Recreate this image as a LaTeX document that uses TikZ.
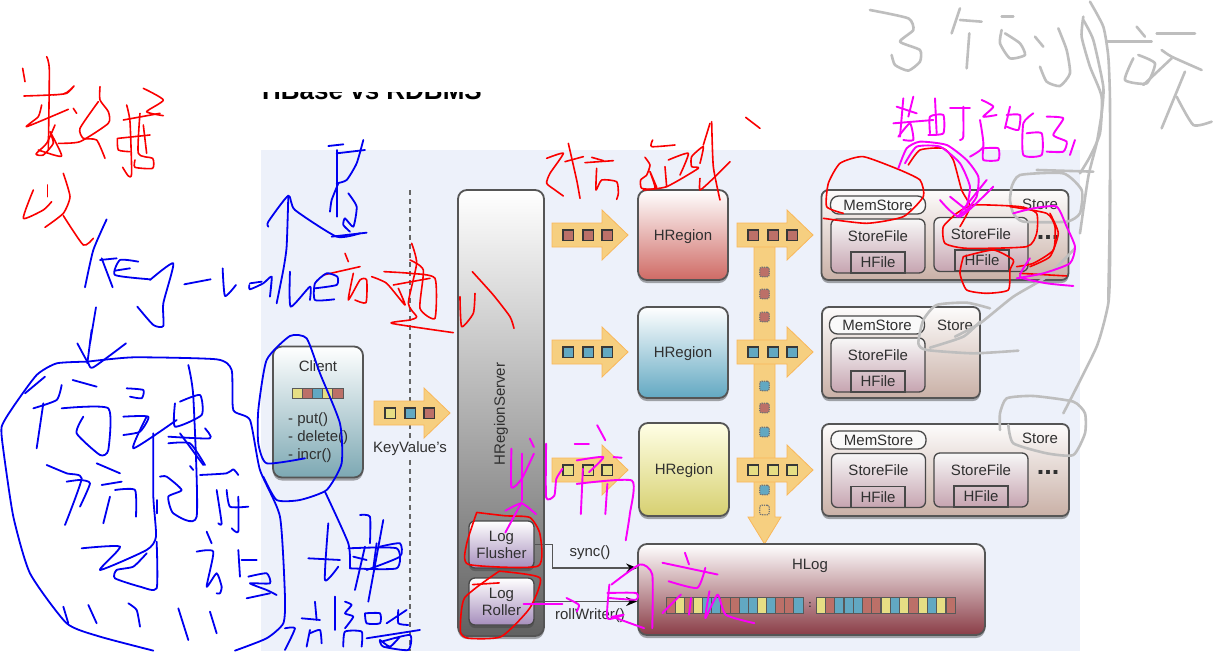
\documentclass[tikz,border=0pt]{standalone}
\usepackage{fontspec}
\setmainfont{Liberation Sans}
\usepackage{xcolor}
\usetikzlibrary{arrows.meta,shadows}
\definecolor{panelblue}{HTML}{EDF1FA}
\definecolor{sqR}{HTML}{BC7068}
\definecolor{sqB}{HTML}{62A8C2}
\definecolor{sqY}{HTML}{E6DE84}
\definecolor{flowfillc}{HTML}{F6CF80}
\definecolor{edgec}{HTML}{555555}
\definecolor{textc}{HTML}{303030}
\definecolor{storebot}{HTML}{C9B0A6}
\definecolor{filebot}{HTML}{C6A4B0}
\definecolor{logbot}{HTML}{A68EBC}
\definecolor{hlogbot}{HTML}{8A3D47}
\definecolor{clientbot}{HTML}{7CA8B3}
\definecolor{inkB}{HTML}{0000F0}
\definecolor{inkR}{HTML}{FA0000}
\definecolor{inkP}{HTML}{FA00FA}
\definecolor{inkG}{HTML}{BEBEBE}
\tikzset{
	softshadow/.style={drop shadow={shadow xshift=0pt,shadow yshift=-3pt,opacity=.45,fill=black!75}},
	lbl/.style={inner sep=0pt,text=textc,font=\fontsize{15}{17}\selectfont},
	bigbox/.style={draw=edgec,line width=1.8pt,rounded corners=9pt,inner sep=0pt,softshadow},
	thinbox/.style={draw=edgec!85!black,line width=1.3pt,inner sep=0pt},
	regionbox/.style={bigbox,minimum width=90pt,lbl,text depth=0pt},
	storebox/.style={bigbox,top color=white!96!storebot,bottom color=storebot,rounded corners=7pt},
	memstore/.style={thinbox,fill=white!95!gray,rounded corners=8pt,minimum width=95pt,minimum height=18pt,lbl},
	storefile/.style={thinbox,top color=white!94!gray,bottom color=filebot,rounded corners=6pt,minimum width=94pt,minimum height=54pt},
	hfile/.style={thinbox,minimum width=54pt,minimum height=21pt,lbl},
	logbox/.style={thinbox,top color=white,bottom color=logbot,rounded corners=6pt,minimum width=65pt,minimum height=47pt,lbl,align=center,softshadow},
	flowfill/.style={fill=flowfillc,draw=orange!30!flowfillc,line width=.8pt},
	flowsq/.style={draw=black!78,line width=1.5pt,inner sep=0pt,minimum size=10.5pt},
	bardot/.style={draw=black!55,densely dotted,line width=1.2pt,inner sep=0pt,minimum size=9.5pt,rounded corners=2pt},
	logcell/.style={draw=black!65,line width=.7pt,inner sep=0pt,minimum width=9.1pt,minimum height=16pt},
	stripcell/.style={draw=black!65,line width=.8pt,inner sep=0pt,minimum width=10.2pt,minimum height=10pt},
	wire/.style={draw=edgec,line width=1.3pt,-{Stealth[length=11pt,width=9pt,color=black]}},
	inkblue/.style={color=inkB,line width=1.8pt,line cap=round,line join=round},
	inkred/.style={color=inkR,line width=1.6pt,line cap=round,line join=round},
	inkpink/.style={color=inkP,line width=1.9pt,line cap=round,line join=round},
	inkgray/.style={color=inkG,line width=2.6pt,line cap=round,line join=round},
	shotone/.style={shift={(260,140)},x=.3333pt,y=-.3333pt},
	shottwo/.style={shift={(780,0)},x=.3333pt,y=-.3333pt},
	shotthree/.style={shift={(440,400)},x=.4082pt,y=-.3356pt},
	shotfour/.style={shift={(0,330)},x=.3333pt,y=-.3333pt},
	shotfive/.style={shift={(0,50)},x=.3333pt,y=-.3333pt},
	shotsix/.style={shift={(540,100)},x=.3333pt,y=-.3333pt},
	shoteight/.style={shift={(900,180)},x=.3333pt,y=-.3333pt},
}
\newcommand{\hand}[1]{\draw plot[smooth,tension=.35] coordinates {#1};}
\newcommand{\flowarrow}[6]{%
	\path[flowfill] (#2-38,#3-12) -- (#2+12,#3-12) -- (#2+12,#3-25) -- (#2+38,#3) -- (#2+12,#3+25) -- (#2+12,#3+12) -- (#2-38,#3+12) -- cycle;
	\node[flowsq,fill=#4] (#1a) at (#2-22,#3) {};
	\node[flowsq,fill=#5] (#1b) at (#2-2,#3) {};
	\node[flowsq,fill=#6] (#1c) at (#2+17,#3) {};
}
\begin{document}
\begin{tikzpicture}[x=1pt,y=-1pt]
	\useasboundingbox (0,0) rectangle (1229,651);
	\fill[white] (0,0) rectangle (1229,651);
	%   %   %   %   %   %   %   %   %   %   %
	%   Title, cut off above
	\begin{scope}
		\clip (250,92) rectangle (500,112);
		\node[anchor=base,inner sep=0pt,font=\fontsize{26}{28}\selectfont\bfseries] (title) at (372,99.5) {HBase vs RDBMS};
	\end{scope}
	%   %   %   %   %   %   %   %   %   %   %
	%   Panel and split line
	\fill[panelblue] (261,150) rectangle (1080,651);
	\coordinate (splittop) at (409.5,190);
	\coordinate (splitend) at (409.5,651);
	\draw[edgec!90,line width=2pt,dash pattern=on 5pt off 4pt] (splittop) -- (splitend);
	%   %   %   %   %   %   %   %   %   %   %
	%   Client
	\node[bigbox,top color=white,bottom color=clientbot,minimum width=90pt,minimum height=131pt] (client) at (318,412) {};
	\node[lbl] (clientname) at (318,366) {Client};
	\foreach \i/\c in {1/sqY,2/sqR,3/sqB,4/sqY,5/sqR}
		\node[stripcell,fill=\c] (clientcell\i) at ({292+10.2*(\i-.5)},393) {};
	\node[lbl,anchor=west] (put) at (288,420) {- put()};
	\node[lbl,anchor=west] (delete) at (288,438) {- delete()};
	\node[lbl,anchor=west] (incr) at (288,456) {- incr()};
	%   %   %   %   %   %   %   %   %   %   %
	%   Client -> HRegionServer
	\flowarrow{kv}{412}{413}{sqY}{sqB}{sqR}
	\node[lbl,fill=panelblue,inner ysep=2pt] (kvname) at (410,449) {KeyValue's};
	%   %   %   %   %   %   %   %   %   %   %
	%   HRegionServer
	\node[bigbox,top color=white,bottom color=black!62,minimum width=86pt,minimum height=446pt] (server) at (501,413) {};
	\node[lbl,rotate=90] (servername) at (501,414) {HRegionServer};
	\node[logbox] (flusher) at (501.5,544.5) {Log\\Flusher};
	\node[logbox] (roller) at (501.5,601.5) {Log\\Roller};
	%   %   %   %   %   %   %   %   %   %   %
	%   Regions
	\flowarrow{rowa}{590}{235}{sqR}{sqR}{sqR}
	\flowarrow{rowb}{590}{352}{sqB}{sqB}{sqB}
	\flowarrow{rowc}{590}{470}{sqY}{sqY}{sqY}
	\node[regionbox,minimum height=90pt,top color=white,bottom color=sqR!80!red!90] (regiona) at (683,235) {HRegion};
	\node[regionbox,minimum height=91pt,top color=white,bottom color=sqB] (regionb) at (683,352.5) {HRegion};
	\node[regionbox,minimum height=93pt,top color=white!90!yellow,bottom color=sqY!85!olive] (regionc) at (684,469.5) {HRegion};
	%   %   %   %   %   %   %   %   %   %   %
	%   Bus from the regions down to the log
	\path[flowfill] (754,225) -- (775,225) -- (775,517) -- (781,517) -- (764.5,544) -- (748,517) -- (754,517) -- cycle;
	\flowarrow{busa}{775}{235}{sqR}{sqR}{sqR}
	\flowarrow{busb}{775}{352}{sqB}{sqB}{sqB}
	\flowarrow{busc}{775}{470}{sqY}{sqY}{sqY}
	\foreach \dy/\dc in {272/sqR,294/sqR,317/sqR,386/sqB,408/sqR,432/sqB,490/sqB}
		\node[bardot,fill=\dc] (dot\dy) at (764.5,\dy) {};
	\node[bardot] (dotlast) at (764.5,510) {};
	%   %   %   %   %   %   %   %   %   %   %
	%   Stores
	\node[storebox,minimum width=247pt,minimum height=90pt] (storea) at (945,235) {};
	\node[lbl] (storeaname) at (1040,204) {Store};
	\node[memstore] (mema) at (878,205) {MemStore};
	\node[storefile] (filea) at (878,246) {};
	\node[lbl] (fileaname) at (878,236) {StoreFile};
	\node[hfile] (hfilea) at (878,262.5) {HFile};
	\node[storefile] (fileb) at (981,244.5) {};
	\node[lbl] (filebname) at (981,234) {StoreFile};
	\node[hfile] (hfileb) at (982,260.5) {HFile};
	\node[lbl,font=\fontsize{27}{27}\selectfont\bfseries] (moresa) at (1048,237) {...};
	\node[storebox,minimum width=158pt,minimum height=91pt] (storeb) at (901,352.5) {};
	\node[lbl] (storebname) at (955,325) {Store};
	\node[memstore] (memb) at (877,325) {MemStore};
	\node[storefile] (fileba) at (878,365) {};
	\node[lbl] (filebaname) at (878,355) {StoreFile};
	\node[hfile] (hfileba) at (878,381.5) {HFile};
	\node[storebox,minimum width=247pt,minimum height=92pt] (storec) at (945.5,470) {};
	\node[lbl] (storecname) at (1040,438) {Store};
	\node[memstore] (memc) at (878.5,440) {MemStore};
	\node[storefile] (fileca) at (878.5,480.5) {};
	\node[lbl] (filecaname) at (878.5,470) {StoreFile};
	\node[hfile] (hfileca) at (878,497) {HFile};
	\node[storefile] (filecb) at (981,480) {};
	\node[lbl] (filecbname) at (981,470) {StoreFile};
	\node[hfile] (hfilecb) at (981,496.5) {HFile};
	\node[lbl,font=\fontsize{27}{27}\selectfont\bfseries] (moresc) at (1048,472) {...};
	%   %   %   %   %   %   %   %   %   %   %
	%   HLog
	\node[bigbox,top color=white,bottom color=hlogbot,minimum width=347pt,minimum height=91pt] (hlog) at (811.5,589.5) {};
	\node[lbl] (hlogname) at (810,566) {HLog};
	\foreach \i/\c in {1/sqR,2/sqY,3/sqR,4/sqY,5/sqB,6/sqB,7/sqR,8/sqR,9/sqB,10/sqB,11/sqY,12/sqB,13/sqR,14/sqR,15/sqB}
		\node[logcell,fill=\c] (cella\i) at ({666+9.13*(\i-.5)},605) {};
	\node[lbl,font=\bfseries] (logdots) at (810,605) {:};
	\foreach \i/\c in {1/sqY,2/sqR,3/sqB,4/sqB,5/sqB,6/sqR,7/sqR,8/sqY,9/sqB,10/sqY,11/sqR,12/sqY,13/sqB,14/sqY,15/sqR}
		\node[logcell,fill=\c] (cellb\i) at ({816+9.27*(\i-.5)},605) {};
	%   %   %   %   %   %   %   %   %   %   %
	%   Server -> HLog
	\draw[wire] (flusher.east) -- ++(18,0) |- ([yshift=21.5pt]hlog.west);
	\draw[wire] (roller.east) -- (roller.east -| hlog.west);
	\node[lbl] (syncname) at (590,553) {sync()};
	\node[lbl] (rollname) at (590,616) {rollWriter()};
	%   %   %   %   %   %   %   %   %   %   %
	%   Gray notes
	\begin{scope}[inkgray,shottwo]
		\hand{(270,30)(385,55)(400,90)(360,125)(420,150)(420,185)(385,212)(345,195)(335,165)}
		\hand{(515,100)(540,25)} \hand{(540,60)(605,65)} \hand{(568,100)(560,205)}
		\hand{(665,50)(700,50)} \hand{(665,90)(660,130)(690,175)(735,165)(720,130)(675,100)}
		\hand{(765,110)(790,140)} \hand{(835,85)(860,150)(870,220)(840,258)(800,245)(780,200)}
		\hand{(930,5)(970,80)(985,170)(990,300)(990,600)(985,900)}
		\hand{(910,50)(905,110)(930,200)(965,290)(960,400)(930,470)(900,520)}
		\hand{(910,60)(940,120)(970,260)(965,340)(950,430)(925,530)(900,700)}
		\hand{(980,125)(1115,125)} \hand{(1070,80)(1095,110)}
		\hand{(1060,175)(1035,240)(1100,250)(1125,190)(1075,165)}
		\hand{(1130,100)(1245,100)} \hand{(1145,150)(1175,170)(1265,210)} \hand{(1175,175)(1090,255)}
		\hand{(1215,215)(1145,385)} \hand{(1190,290)(1240,375)(1295,365)}
		\hand{(695,560)(720,525)(850,520)(905,570)(900,640)(860,665)(730,665)(700,640)(690,600)(695,560)}
		\hand{(770,510)(940,515)}
	\end{scope}
	\begin{scope}[inkgray,shoteight]
		\hand{(630,0)(630,250)(625,370)(590,500)(490,700)}
		\hand{(525,205)(440,290)(340,350)(240,430)(165,470)} \hand{(90,503)(190,470)(240,425)}
		\hand{(270,385)(200,368)(110,375)(70,420)(55,490)(80,510)(220,520)(355,512)}
		\hand{(300,750)(300,700)(320,655)(400,648)(520,665)(555,700)(555,760)(520,825)(440,820)(340,790)(325,735)}
	\end{scope}
	%   %   %   %   %   %   %   %   %   %   %
	%   Red notes
	\begin{scope}[inkred,shotfive]
		\hand{(68,55)(75,95)} \hand{(72,138)(190,132)(222,108)(200,130)(160,135)}
		\hand{(140,20)(148,60)(145,300)} \hand{(125,165)(115,200)(80,230)(205,178)} \hand{(220,175)(230,190)}
		\hand{(165,225)(140,280)(108,312)(130,315)(160,280)(150,245)(185,318)(130,305)(115,300)}
		\hand{(175,280)(240,275)(325,220)(325,185)(300,150)(300,110)}
		\hand{(295,155)(240,235)(250,265)(290,270)(315,325)}
		\hand{(370,210)(480,190)} \hand{(380,165)(390,215)(395,370)(385,378)(368,352)}
		\hand{(355,265)(450,255)} \hand{(352,265)(355,300)(390,305)}
		\hand{(430,115)(490,150)(440,185)(490,197)}
		\hand{(420,190)(415,310)(458,325)(458,355)(405,352)(405,330)} \hand{(430,225)(440,310)}
		\hand{(100,420)(70,505)(130,480)(155,455)} \hand{(143,405)(143,440)}
		\hand{(190,370)(210,440)(190,490)(135,532)} \hand{(190,497)(250,585)(280,565)}
	\end{scope}
	\begin{scope}[inkred,shotone]
		\hand{(255,340)(265,365)} \hand{(190,405)(300,380)}
		\hand{(280,400)(265,480)(300,420)(320,420)(318,488)(285,480)}
		\hand{(335,410)(380,430)(435,495)(415,445)}
		\hand{(372,395)(450,400)(525,415)(525,535)(480,505)(490,390)(450,360)} \hand{(400,435)(510,415)}
		\hand{(455,310)(470,370)(445,490)(470,530)(450,540)(395,550)(580,578)}
		\hand{(645,460)(640,520)(605,560)(600,470)} \hand{(637,395)(700,465)(750,530)(762,565)}
	\end{scope}
	\begin{scope}[inkred,shotsix]
		\hand{(20,175)(70,160)(30,220)(20,250)(45,270)(70,288)} \hand{(85,130)(110,240)(120,295)} \hand{(75,185)(130,170)}
		\hand{(135,188)(220,182)} \hand{(155,172)(190,182)} \hand{(170,205)(168,270)(185,240)(230,245)(235,280)(230,298)}
		\hand{(338,120)(335,140)(405,135)}
		\hand{(315,172)(330,195)(320,225)(302,240)(305,265)(345,265)(330,215)(350,262)}
		\hand{(375,200)(380,260)} \hand{(385,180)(445,160)(420,225)}
		\hand{(310,270)(380,260)(475,205)(455,200)(455,170)(490,140)(480,190)}
		\hand{(515,65)(520,200)(540,300)} \hand{(510,70)(490,135)} \hand{(570,185)(515,240)(480,270)(480,235)}
		\hand{(617,52)(660,85)}
	\end{scope}
	\begin{scope}[inkred,shottwo]
		\hand{(360,510)(250,470)(180,490)(145,550)(140,620)(190,640)}
		\hand{(130,655)(260,670)(370,650)(430,590)(420,540)(360,510)}
		\hand{(385,495)(420,450)(490,445)(520,480)(545,570)(570,620)(540,680)}
		\hand{(530,640)(490,680)(495,730)(560,745)(740,740)(770,700)(770,640)(720,620)(580,615)(530,640)}
		\hand{(690,620)(800,640)(825,680)(820,750)(760,790)(710,800)}
		\hand{(810,640)(835,700)(810,770)(750,800)} \hand{(720,820)(860,828)}
		\hand{(550,770)(540,820)(560,870)(620,880)(685,870)(690,810)(700,780)(640,750)(550,770)}
	\end{scope}
	\begin{scope}[inkred,shotthree]
		\hand{(90,335)(65,430)(70,490)(240,495)(245,400)(220,350)(160,345)(90,335)}
		\hand{(145,510)(60,590)(50,690)(70,710)(150,705)(220,620)(245,530)(145,510)} \hand{(80,550)(145,545)}
	\end{scope}
	%   %   %   %   %   %   %   %   %   %   %
	%   Pink notes
	\begin{scope}[inkpink,shottwo]
		\hand{(340,370)(460,360)} \hand{(370,295)(360,410)} \hand{(350,320)(410,340)} \hand{(400,290)(385,350)}
		\hand{(355,410)(390,370)(400,420)(370,420)} \hand{(450,400)(450,350)(490,345)(490,400)(445,405)} \hand{(465,295)(470,400)}
		\hand{(510,325)(570,325)} \hand{(550,320)(550,410)(540,420)} \hand{(605,300)(640,320)(610,350)(650,345)}
		\hand{(600,360)(610,440)(570,470)} \hand{(610,445)(655,445)(655,480)(610,480)(610,445)}
		\hand{(690,320)(675,385)} \hand{(680,345)(720,345)(715,390)(680,380)}
		\hand{(760,340)(730,370)(730,465)(785,465)(785,400)(740,400)}
		\hand{(800,350)(850,355)(820,405)(860,425)(850,455)(800,455)} \hand{(885,420)(870,465)}
		\hand{(355,505)(380,445)(420,425)(500,435)(560,480)(595,530)(590,590)(560,630)(530,650)}
		\hand{(375,490)(410,440)(480,440)(540,490)(570,560)(560,620)}
		\hand{(480,600)(540,650)(640,560)} \hand{(510,590)(560,630)} \hand{(620,540)(540,640)}
		\hand{(700,640)(760,625)(830,620)(860,680)(885,740)(870,790)(790,820)(710,835)}
		\hand{(750,775)(720,830)(800,850)(880,858)}
	\end{scope}
	\begin{scope}[inkpink,shotthree]
		\hand{(220,115)(230,140)} \hand{(175,145)(175,260)(200,235)(230,160)} \hand{(200,160)(200,300)}
		\hand{(160,395)(200,305)} \hand{(160,330)(200,308)(235,340)}
		\hand{(260,130)(260,290)(280,285)(285,235)(300,205)}
		\hand{(385,75)(405,120)} \hand{(330,130)(365,130)} \hand{(335,180)(400,170)(365,215)} \hand{(350,205)(345,340)}
		\hand{(335,250)(470,240)(465,340)(455,418)} \hand{(410,250)(405,340)} \hand{(425,170)(445,172)}
		\hand{(420,550)(490,490)(520,520)(520,680)} \hand{(415,550)(410,650)(450,640)(425,645)}
		\hand{(410,575)(480,575)(480,595)(415,590)} \hand{(500,680)(420,645)}
		\hand{(600,455)(610,490)} \hand{(545,485)(680,520)} \hand{(650,500)(630,560)(560,540)}
		\hand{(590,580)(545,635)} \hand{(615,590)(610,640)} \hand{(660,570)(650,650)(680,580)(700,640)(770,665)}
		\hand{(205,607)(300,607)} \hand{(310,590)(340,610)(335,630)}
	\end{scope}
	%   %   %   %   %   %   %   %   %   %   %
	%   Blue notes
	\begin{scope}[inkblue,shotfive]
		\hand{(320,508)(280,600)(255,712)} \hand{(350,625)(300,630)} \hand{(305,625)(338,712)}
		\hand{(415,635)(360,630)(345,675)(450,688)} \hand{(345,662)(390,655)}
		\hand{(450,690)(520,640)(490,760)(490,828)(460,825)(412,770)}
		\hand{(553,703)(632,688)} \hand{(668,655)(675,738)(708,705)}
		\hand{(750,700)(785,695)} \hand{(748,705)(750,718)(790,700)(815,680)(810,740)(815,690)}
		\hand{(865,440)(860,590)(850,660)(830,760)} \hand{(870,665)(872,770)(930,710)(930,750)}
		\hand{(945,715)(1010,705)(1012,680)(980,670)(945,700)(945,750)(1003,748)}
		\hand{(805,530)(805,515)(865,437)(885,480)(1010,560)(1080,550)}
		\hand{(288,772)(270,880)}
	\end{scope}
	\begin{scope}[inkblue,shotone]
		\hand{(205,18)(250,13)} \hand{(230,30)(230,230)} \hand{(230,40)(315,30)} \hand{(310,0)(290,70)(260,120)(230,130)}
		\hand{(210,215)(215,180)(235,130)} \hand{(265,160)(290,200)(280,260)(255,235)(250,255)(270,275)} \hand{(215,290)(320,278)}
	\end{scope}
	\begin{scope}[inkblue,shotfour]
		\hand{(275,0)(262,100)} \hand{(232,40)(265,100)(280,112)(378,40)}
		\hand{(262,95)(170,100)(110,135)(40,230)(5,290)(10,360)(40,560)(90,730)(200,880)(300,920)(460,962)}
		\hand{(262,95)(400,82)(650,88)(695,120)(700,240)(750,270)(780,420)(840,560)(855,800)(850,880)(800,925)(705,962)}
		\hand{(915,385)(800,400)(775,340)(775,240)(800,90)(870,18)(920,25)(960,130)(1020,280)(1025,400)(980,480)(900,510)(830,510)(790,440)}
		\hand{(975,485)(1045,640)(1050,715)}
		\hand{(75,190)(135,140)} \hand{(185,165)(170,210)(100,235)} \hand{(130,220)(110,355)} \hand{(218,150)(290,170)}
		\hand{(185,235)(325,235)(325,360)(300,375)(230,310)(250,260)}
		\hand{(380,175)(430,180)(425,205)(390,200)} \hand{(370,260)(445,260)(420,305)(370,315)} \hand{(440,260)(400,355)(530,270)}
		\hand{(565,105)(580,200)(590,560)(520,550)(505,500)(545,480)(500,440)(480,440)}
		\hand{(525,220)(525,290)(605,255)(600,195)(540,215)} \hand{(505,320)(630,325)(615,295)}
		\hand{(505,340)(570,340)(615,405)} \hand{(540,310)(610,405)} \hand{(570,408)(580,420)} \hand{(600,435)(680,430)(700,418)(715,435)}
		\hand{(460,310)(460,500)(468,620)(440,660)(300,720)(360,650)(245,655)}
		\hand{(470,635)(470,775)(420,770)(345,745)(350,720)(400,710)(440,670)}
		\hand{(140,405)(200,430)(245,445)(195,585)} \hand{(200,455)(240,450)(270,460)(240,530)}
		\hand{(305,465)(365,455)} \hand{(290,400)(360,430)} \hand{(330,500)(310,580)} \hand{(345,480)(405,480)(408,560)}
		\hand{(470,510)(470,550)} \hand{(650,480)(665,580)(655,580)} \hand{(680,480)(690,530)(745,530)} \hand{(715,500)(715,605)(695,595)}
		\hand{(620,605)(635,640)} \hand{(590,665)(640,665)(620,770)(650,730)(665,770)(660,790)(650,790)}
		\hand{(715,660)(720,740)} \hand{(725,690)(770,690)} \hand{(745,740)(800,730)(810,760)(750,760)(800,780)(830,795)} \hand{(740,805)(810,790)}
		\hand{(190,830)(205,880)} \hand{(265,825)(290,880)} \hand{(385,820)(410,840)(420,890)} \hand{(535,835)(565,930)} \hand{(630,845)(650,910)}
		\hand{(985,580)(975,750)(1015,710)} \hand{(925,685)(1020,690)} \hand{(1045,655)(1190,655)(1190,715)(1050,715)}
		\hand{(1095,650)(1065,780)} \hand{(1150,570)(1105,815)} \hand{(1080,555)(1110,560)(1110,640)} \hand{(1130,640)(1120,715)}
		\hand{(1140,650)(1200,640)(1200,680)(1100,720)} \hand{(1060,680)(1100,690)}
		\hand{(855,895)(885,895)(855,960)} \hand{(905,865)(960,870)} \hand{(930,900)(920,950)} \hand{(945,815)(950,870)} \hand{(930,910)(960,900)(965,940)}
		\hand{(1005,800)(1005,900)} \hand{(1035,815)(1055,825)(1035,850)(1060,860)(1035,895)} \hand{(1030,950)(1035,905)(1085,905)(1085,950)}
		\hand{(1095,850)(1140,850)(1140,880)(1100,880)(1095,850)} \hand{(1160,880)(1220,840)} \hand{(1195,840)(1195,880)(1225,885)}
		\hand{(1100,925)(1260,900)} \hand{(1145,935)(1230,915)(1225,960)(1150,950)(1140,930)(1170,950)(1200,920)}
	\end{scope}
\end{tikzpicture}
\end{document}
